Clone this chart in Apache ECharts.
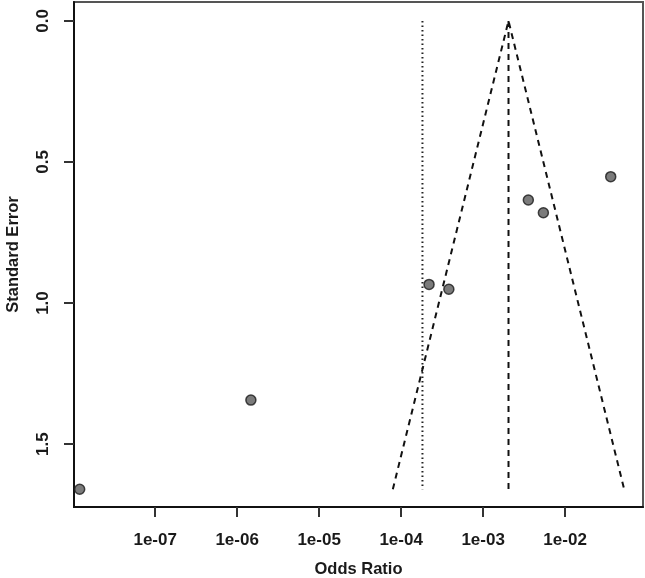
<!DOCTYPE html>
<html>
<head>
<meta charset="utf-8">
<script src="https://cdn.jsdelivr.net/npm/echarts@6/dist/echarts.min.js"></script>
<style>
html,body{margin:0;padding:0;background:#fff;}
#chart{width:645px;height:578px;}
</style>
</head>
<body>
<div id="chart"></div>
<script>
// study estimates (odds ratio, standard error)
var studyOR = [1.2e-8, 1.47e-6, 2.19e-4, 3.82e-4, 3.56e-3, 5.43e-3, 3.6e-2];
var studySE = [1.66, 1.344, 0.934, 0.951, 0.635, 0.680, 0.552];
// funnel: left foot, apex, right foot
var funnelOR = [7.92e-5, 2.04e-3, 5.25e-2];
var funnelSE = [1.66, 0, 1.66];
// reference lines
var pooledOR = 2.04e-3;
var nullOR = 1.82e-4;
var lineSE = [0, 1.66];
// axis ticks
var xTickPow = [-7, -6, -5, -4, -3, -2];
var xTickLabels = ['1e-07', '1e-06', '1e-05', '1e-04', '1e-03', '1e-02'];
var yTicks = [0, 0.5, 1, 1.5];
var yTickLabels = ['0.0', '0.5', '1.0', '1.5'];

function lg(v){ return Math.log10(v); }

var points = studyOR.map(function(o, i){ return [lg(o), studySE[i]]; });
var funnel = funnelOR.map(function(o, i){ return [lg(o), funnelSE[i]]; });
var pooled = lineSE.map(function(s){ return [lg(pooledOR), s]; });
var nullLine = lineSE.map(function(s){ return [lg(nullOR), s]; });

var font = 'Liberation Sans, Arial, Helvetica, sans-serif';
var myChart = echarts.init(document.getElementById('chart'));
var option = {
    animation: false,
    grid: {
        left: 74, right: 2, top: 2, bottom: 71,
        containLabel: false, outerBoundsMode: 'none',
        show: true, borderColor: '#555', borderWidth: 2
    },
    xAxis: {
        type: 'value',
        position: 'bottom',
        min: -7.99, max: -1.05,
        name: 'Odds Ratio',
        nameLocation: 'middle',
        nameGap: 54,
        nameTextStyle: {fontFamily: font, fontSize: 16.5, fontWeight: 'bold', color: '#1a1a1a'},
        splitLine: {show: false},
        axisLine: {show: true, onZero: false, lineStyle: {color: '#111', width: 2}},
        axisTick: {show: true, length: 10, customValues: xTickPow, lineStyle: {color: '#333', width: 2}},
        axisLabel: {
            customValues: xTickPow, margin: 25,
            fontFamily: font, fontSize: 17, fontWeight: 'bold', color: '#1a1a1a',
            formatter: function(v){ return xTickLabels[xTickPow.indexOf(v)]; }
        }
    },
    yAxis: {
        type: 'value',
        inverse: true,
        min: -0.067, max: 1.723,
        name: 'Standard Error',
        nameLocation: 'middle',
        nameRotate: 90,
        nameGap: 52,
        nameTextStyle: {fontFamily: font, fontSize: 16.5, fontWeight: 'bold', color: '#1a1a1a'},
        splitLine: {show: false},
        axisLine: {show: true, onZero: false, lineStyle: {color: '#111', width: 2}},
        axisTick: {show: true, length: 10, customValues: yTicks, lineStyle: {color: '#333', width: 2}},
        axisLabel: {
            customValues: yTicks, margin: 22, rotate: 90,
            fontFamily: font, fontSize: 17, fontWeight: 'bold', color: '#1a1a1a',
            formatter: function(v){ return yTickLabels[yTicks.indexOf(v)]; }
        }
    },
    series: [
        {
            type: 'line', data: nullLine, symbol: 'none', silent: true,
            lineStyle: {color: '#222', width: 2, type: [1.5, 3]}
        },
        {
            type: 'line', data: pooled, symbol: 'none', silent: true,
            lineStyle: {color: '#111', width: 2, type: [6, 5]}
        },
        {
            type: 'line', data: funnel, symbol: 'none', silent: true,
            lineStyle: {color: '#111', width: 2, type: [6, 5]}
        },
        {
            type: 'scatter', data: points, symbol: 'circle', symbolSize: 10,
            itemStyle: {color: '#5a5a5a', borderColor: '#1a1a1a', borderWidth: 1.5}
        }
    ]
};
myChart.setOption(option);
</script>
</body>
</html>
